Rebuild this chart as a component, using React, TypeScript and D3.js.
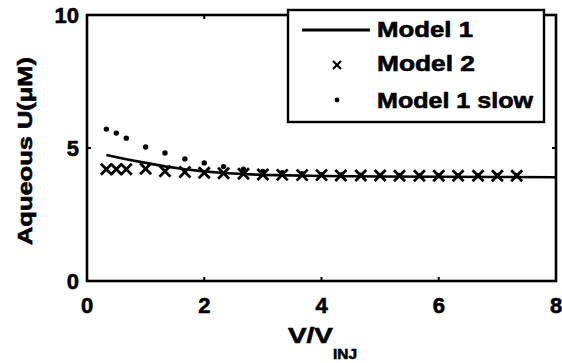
import React from "react";
import * as d3 from "d3";

const xTicks = [0, 2, 4, 6, 8];
const yTicks = [0, 5, 10];

const model1X = [0.33, 0.67, 1.0, 1.33, 1.67, 2.0, 2.33, 2.67, 3.0, 4.0, 5.0, 6.0, 7.0, 8.0];
const model1Y = [4.74, 4.58, 4.44, 4.31, 4.2, 4.12, 4.06, 4.02, 3.99, 3.95, 3.93, 3.92, 3.91, 3.9];

const model2X = [0.33, 0.5, 0.67, 1.0, 1.33, 1.67, 2.0, 2.33, 2.67, 3.0, 3.33, 3.67, 4.0, 4.33, 4.67, 5.0, 5.33, 5.67, 6.0, 6.33, 6.67, 7.0, 7.33];
const model2Y = [4.2, 4.2, 4.2, 4.22, 4.13, 4.1, 4.07, 4.05, 4.03, 4.0, 3.99, 3.98, 3.98, 3.97, 3.97, 3.97, 3.96, 3.96, 3.96, 3.96, 3.96, 3.96, 3.96];

const slowX = [0.33, 0.5, 0.67, 1.0, 1.33, 1.67, 2.0, 2.33, 2.67, 3.0, 3.33, 3.67, 4.0, 4.33, 4.67, 5.0, 5.33, 5.67, 6.0, 6.33, 6.67, 7.0, 7.33];
const slowY = [5.71, 5.56, 5.37, 5.04, 4.81, 4.59, 4.44, 4.3, 4.2, 4.12, 4.07, 4.03, 4.0, 3.99, 3.98, 3.97, 3.97, 3.96, 3.96, 3.96, 3.96, 3.96, 3.96];

const legendLabels = ["Model 1", "Model 2", "Model 1 slow"];

const W = 562, H = 363;
const L = 87, R = 556, T = 15, B = 281;
const FONT = "'Liberation Sans', Arial, Helvetica, sans-serif";
const TXT = { fontFamily: FONT, fontWeight: "bold" as const, stroke: "#000", strokeWidth: 0.6 };

export default function App() {
  const x = d3.scaleLinear().domain([0, 8]).range([L, R]);
  const y = d3.scaleLinear().domain([0, 10]).range([B, T]);
  const line = d3.line<number>().x((_, i) => x(model1X[i])).y((d) => y(d));
  const xs = 5.5;
  return (
    <svg width={W} height={H} style={{ position: "absolute", left: 0, top: 0, background: "#fff" }}>
      <rect x={0} y={0} width={W} height={H} fill="#fff" />
      {xTicks.map((t) => (
        <g key={"xt" + t}>
          <line x1={x(t)} x2={x(t)} y1={B} y2={B - 4} stroke="#000" strokeWidth={2} />
          <line x1={x(t)} x2={x(t)} y1={T} y2={T + 4} stroke="#000" strokeWidth={2} />
          <text x={x(t)} y={313} textAnchor="middle" {...TXT} fontSize={22}>{t}</text>
        </g>
      ))}
      {yTicks.map((t) => (
        <g key={"yt" + t}>
          <line x1={L} x2={L + 4} y1={y(t)} y2={y(t)} stroke="#000" strokeWidth={2} />
          <line x1={R} x2={R - 4} y1={y(t)} y2={y(t)} stroke="#000" strokeWidth={2} />
          <text x={79} y={y(t) + 8} textAnchor="end" {...TXT} fontSize={22}>{t}</text>
        </g>
      ))}
      <path d={line(model1Y) || ""} fill="none" stroke="#000" strokeWidth={2.6} />
      {slowY.map((v, i) => (
        <circle key={"s" + i} cx={x(slowX[i])} cy={y(v)} r={2.7} fill="#000" />
      ))}
      {model2Y.map((v, i) => (
        <g key={"m" + i} stroke="#000" strokeWidth={2.8}>
          <line x1={x(model2X[i]) - xs} x2={x(model2X[i]) + xs} y1={y(v) - xs} y2={y(v) + xs} />
          <line x1={x(model2X[i]) - xs} x2={x(model2X[i]) + xs} y1={y(v) + xs} y2={y(v) - xs} />
        </g>
      ))}
      <rect x={L} y={T} width={R - L} height={B - T} fill="none" stroke="#000" strokeWidth={2.6} />
      <rect x={288} y={10} width={256} height={112} fill="#fff" stroke="#000" strokeWidth={2.4} />
      <line x1={302} x2={370} y1={30} y2={30} stroke="#000" strokeWidth={2.8} />
      <g stroke="#000" strokeWidth={2.2}>
        <line x1={333} x2={341} y1={61} y2={69} />
        <line x1={333} x2={341} y1={69} y2={61} />
      </g>
      <circle cx={337} cy={100} r={2.4} fill="#000" />
      {legendLabels.map((s, i) => (
        <text key={s} x={377} y={[37, 71, 108][i]} {...TXT} fontSize={22}
          textLength={[96, 98, 156][i]} lengthAdjust="spacingAndGlyphs">{s}</text>
      ))}
      <text transform={`translate(32,151) rotate(-90)`} textAnchor="middle" {...TXT} fontSize={21}
        textLength={188} lengthAdjust="spacingAndGlyphs">Aqueous U(μM)</text>
      <text x={288} y={343} {...TXT} fontSize={22} textLength={45} lengthAdjust="spacingAndGlyphs">V/V</text>
      <text x={333} y={359} {...TXT} fontSize={15} textLength={24} lengthAdjust="spacingAndGlyphs">INJ</text>
    </svg>
  );
}
